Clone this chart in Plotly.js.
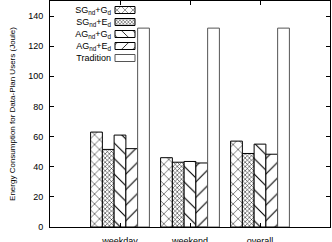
<!DOCTYPE html>
<html><head><meta charset="utf-8">
<script src="https://cdn.plot.ly/plotly-3.0.1.min.js"></script>
<style>html,body{margin:0;padding:0;background:#fff}#c{width:332px;height:242px}</style>
</head><body><div id="c"></div>
<script>
var categories = ["weekday", "weekend", "overall"];
var seriesNames = ["SG<sub>nd</sub>+G<sub>d</sub>", "SG<sub>nd</sub>+E<sub>d</sub>", "AG<sub>nd</sub>+G<sub>d</sub>", "AG<sub>nd</sub>+E<sub>d</sub>", "Tradition"];
var sgG = [63, 46, 57];
var sgE = [51.5, 43, 48.8];
var agG = [61, 43.5, 55];
var agE = [52, 42.5, 48.3];
var tradition = [132, 132, 132];

var patterns = [
  {shape: "x", size: 7, solidity: 0.14},
  {shape: "x", size: 3, solidity: 0.3},
  {shape: "\\", size: 11, solidity: 0.1},
  {shape: "/", size: 11, solidity: 0.1},
  null
];
var values = [sgG, sgE, agG, agE, tradition];
var traces = values.map(function(v, i) {
  var m = {color: "#fff", line: {color: i === 4 ? "#555" : "#000", width: 1}};
  if (patterns[i]) {
    m.pattern = Object.assign({fgcolor: "#000", bgcolor: "#fff", fillmode: "replace"}, patterns[i]);
  }
  return {type: "bar", name: seriesNames[i], x: categories, y: v, marker: m};
});

var fam = "Liberation Sans, Arial, sans-serif";
var tickFont = {family: fam, size: 9, color: "#000"};
var layout = {
  width: 332, height: 242,
  margin: {l: 50, r: 2, t: 1, b: 15},
  paper_bgcolor: "#fff", plot_bgcolor: "#fff",
  font: {family: fam, size: 8, color: "#000"},
  barmode: "group", bargap: 0.16, bargroupgap: 0,
  showlegend: true,
  legend: {x: 0.03, y: 0.985, xanchor: "left", yanchor: "top", bgcolor: "rgba(0,0,0,0)",
           font: {family: fam, size: 9, color: "#000"}, tracegroupgap: 0},
  xaxis: {type: "category", range: [-1, 3], showline: true, linecolor: "#000", linewidth: 1, mirror: "ticks",
          ticks: "inside", ticklen: 4, tickcolor: "#000", showgrid: false, zeroline: false,
          ticklabelstandoff: 5, tickfont: tickFont},
  yaxis: {range: [0, 150], tickvals: [0, 20, 40, 60, 80, 100, 120, 140], showline: true, linecolor: "#000",
          linewidth: 1, mirror: "ticks", ticks: "inside", ticklen: 4, tickcolor: "#000", showgrid: false,
          zeroline: false, ticklabelstandoff: 4, tickfont: tickFont,
          title: {text: "Energy Consumption for Data-Plan Users (Joule)", font: {family: fam, size: 8, color: "#000"}, standoff: 11}}
};
var gd = document.getElementById("c");
Plotly.newPlot(gd, traces, layout, {staticPlot: true, displayModeBar: false}).then(function() {
  var rows = [10, 22, 34, 46, 58];
  var textRight = 111, swatchCenter = 125;
  var items = gd.querySelectorAll(".legend .traces");
  var rootCtm = gd.querySelector(".main-svg").getScreenCTM();
  items.forEach(function(g, i) {
    var ctm = g.getScreenCTM();
    var dx = ctm.e - rootCtm.e, dy = ctm.f - rootCtm.f;
    var t = g.querySelector(".legendtext");
    if (t) {
      t.setAttribute("text-anchor", "end");
      t.style.textAnchor = "end";
      t.setAttribute("x", textRight - dx);
      t.setAttribute("y", rows[i] - dy + 3.3);
    }
    var p = g.querySelector(".legendpoints path");
    if (p) {
      p.setAttribute("d", "M10,3.5H-10V-3.5H10Z");
      p.setAttribute("transform", "translate(" + (swatchCenter - dx) + "," + (rows[i] - dy) + ")");
      p.style.strokeWidth = "1px";
    }
  });
});
</script></body></html>
